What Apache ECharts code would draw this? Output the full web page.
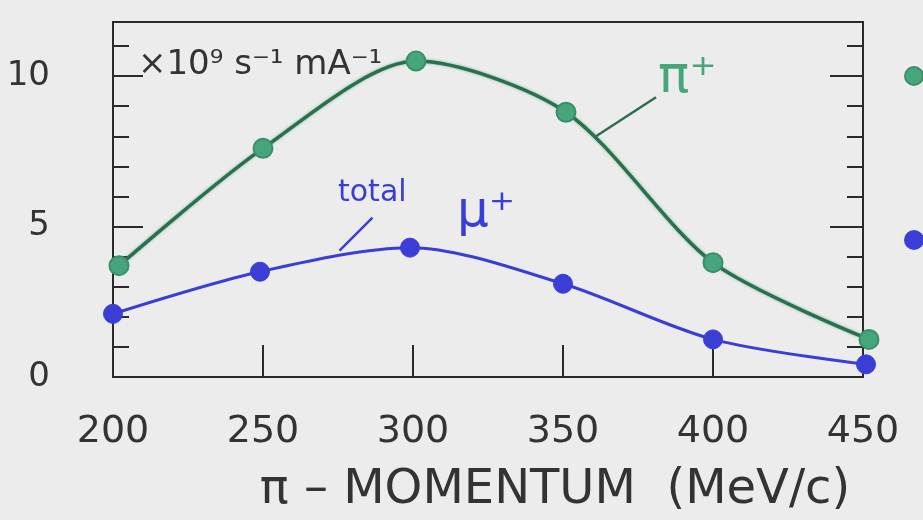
<!DOCTYPE html>
<html>
<head>
<meta charset="utf-8">
<script src="https://cdn.jsdelivr.net/npm/echarts@6/dist/echarts.min.js"></script>
<style>
  html, body { margin: 0; padding: 0; background: #ececec; }
  #chart { width: 923px; height: 520px; }
</style>
</head>
<body>
<div id="chart"></div>
<script>
// Data
const piMomentum = [202, 250, 301, 351, 400, 452];
const piYield = [3.7, 7.6, 10.5, 8.8, 3.8, 1.25];
const muMomentum = [200, 249, 299, 350, 400, 451];
const muYield = [2.1, 3.5, 4.3, 3.1, 1.25, 0.42];
const xTicks = [200, 250, 300, 350, 400, 450];
const yLabelTicks = [0, 5, 10];

const piName = 'π⁺';
const muName = 'total μ⁺';
const unitText = '×10⁹ s⁻¹ mA⁻¹';
const xName = 'π – MOMENTUM  (MeV/c)';

const ink = '#333333';
const green = '#2c6f4e';
const greenMark = '#47a57b';
const blue = '#3a3ed6';

const chart = echarts.init(document.getElementById('chart'), null, { renderer: 'canvas' });

function pairs(xs, ys) { return xs.map((x, i) => [x, ys[i]]); }

const yMin = 0, yMax = 11.8;
const font = 'DejaVu Sans';

const option = {
  backgroundColor: '#ececec',
  animation: false,
  textStyle: { fontFamily: font },
  grid: {
    left: 113, right: 60, top: 22, bottom: 134,
    show: true, borderColor: '#2a2a2a', borderWidth: 2, backgroundColor: 'transparent'
  },
  legend: {
    orient: 'vertical', left: 899, top: 61, itemGap: 144,
    itemWidth: 18, itemHeight: 18, icon: 'circle',
    textStyle: { color: ink, fontSize: 14 },
    data: [piName, muName]
  },
  xAxis: {
    type: 'value', min: xTicks[0], max: xTicks[xTicks.length - 1], interval: 50,
    axisLine: { show: true, lineStyle: { color: '#2a2a2a', width: 2 } },
    axisTick: { show: true, inside: true, length: 32, lineStyle: { color: '#2a2a2a', width: 2 } },
    axisLabel: { color: ink, fontSize: 38, margin: 36, fontFamily: font },
    splitLine: { show: false },
    name: xName, nameLocation: 'middle', nameGap: 90,
    nameTextStyle: { color: ink, fontSize: 48, fontFamily: font, padding: [0, 0, 0, 134] }
  },
  yAxis: [
    {
      type: 'value', position: 'left', min: yMin, max: yMax, interval: 1,
      axisLine: { show: true, lineStyle: { color: '#2a2a2a', width: 2 } },
      axisTick: { show: true, inside: true, length: 16, lineStyle: { color: '#2a2a2a', width: 2 } },
      axisLabel: { show: false }, splitLine: { show: false }
    },
    {
      type: 'value', position: 'left', min: yMin, max: yMax, interval: 5,
      axisLine: { show: false },
      axisTick: { show: true, inside: true, length: 30, lineStyle: { color: '#2a2a2a', width: 2 } },
      axisLabel: {
        show: true, color: ink, fontSize: 34, margin: 63, fontFamily: font, showMaxLabel: false,
        formatter: v => yLabelTicks.indexOf(v) >= 0 ? String(v) : ''
      },
      splitLine: { show: false }
    },
    {
      type: 'value', position: 'right', min: yMin, max: yMax, interval: 1,
      axisLine: { show: true, lineStyle: { color: '#2a2a2a', width: 2 } },
      axisTick: { show: true, inside: true, length: 16, lineStyle: { color: '#2a2a2a', width: 2 } },
      axisLabel: { show: false }, splitLine: { show: false }
    },
    {
      type: 'value', position: 'right', min: yMin, max: yMax, interval: 5,
      axisLine: { show: false },
      axisTick: { show: true, inside: true, length: 33, lineStyle: { color: '#2a2a2a', width: 2 } },
      axisLabel: { show: false }, splitLine: { show: false }
    }
  ],
  series: [
    {
      name: piName, type: 'line', yAxisIndex: 0, smooth: 0.28, clip: false,
      data: pairs(piMomentum, piYield),
      symbol: 'circle', symbolSize: 19,
      itemStyle: { color: greenMark, borderColor: '#3b8f68', borderWidth: 2 },
      lineStyle: { color: green, width: 3.5, shadowColor: 'rgba(70,170,125,0.7)', shadowBlur: 3 },
      markLine: {
        silent: true, symbol: 'none', label: { show: false },
        lineStyle: { color: green, width: 2.5, type: 'solid' },
        data: [[{ coord: [361, 8.0] }, { coord: [381, 9.3] }]]
      },
      z: 3
    },
    {
      name: muName, type: 'line', yAxisIndex: 0, smooth: 0.3, clip: false,
      data: pairs(muMomentum, muYield),
      symbol: 'circle', symbolSize: 19,
      itemStyle: { color: blue, borderColor: blue, borderWidth: 1 },
      lineStyle: { color: blue, width: 3 },
      markLine: {
        silent: true, symbol: 'none', label: { show: false },
        lineStyle: { color: blue, width: 2.5, type: 'solid' },
        data: [[{ coord: [275.5, 4.2] }, { coord: [286.5, 5.3] }]]
      },
      z: 4
    }
  ],
  graphic: [
    {
      type: 'text', left: 138, top: 48, z: 10,
      style: { text: unitText, fill: ink, font: '34px "DejaVu Sans"' }
    },
    {
      type: 'text', left: 658, top: 52, z: 10,
      style: { text: piName, fill: greenMark, font: '52px "DejaVu Sans"' }
    },
    {
      type: 'text', left: 338, top: 178, z: 10,
      style: { text: 'total', fill: blue, font: '30px "DejaVu Sans"' }
    },
    {
      type: 'text', left: 457, top: 188, z: 10,
      style: { text: 'μ⁺', fill: blue, font: '50px "DejaVu Sans"' }
    }
  ]
};

chart.setOption(option);
</script>
</body>
</html>
